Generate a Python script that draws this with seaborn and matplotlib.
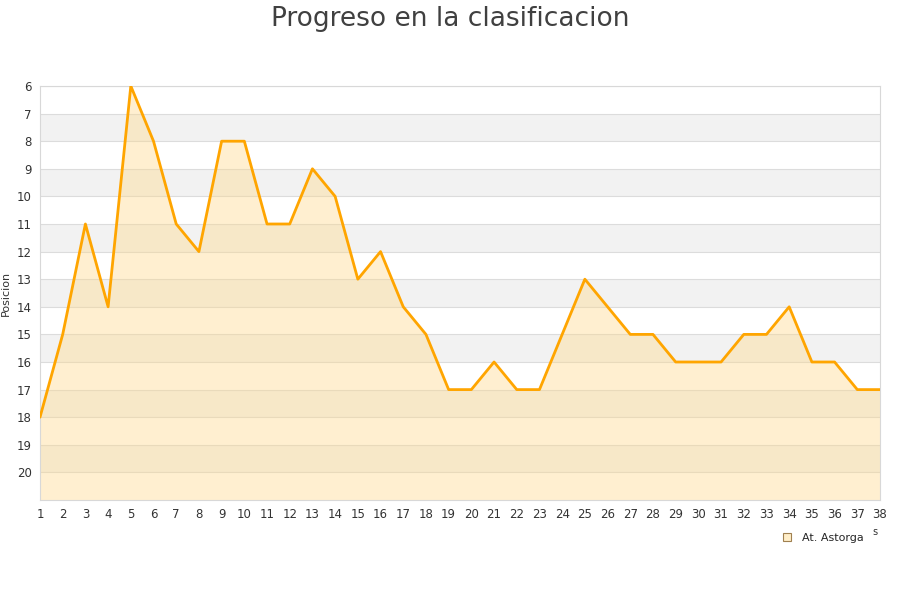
import matplotlib
matplotlib.use('Agg')
import matplotlib.pyplot as plt
import seaborn as sns
import pandas as pd
from matplotlib.lines import Line2D

# data
jornadas = list(range(1, 39))
posicion = [18, 15, 11, 14, 6, 8, 11, 12, 8, 8, 11, 11, 9, 10, 13, 12, 14, 15, 17, 17,
            16, 17, 17, 15, 13, 14, 15, 15, 16, 16, 16, 15, 15, 14, 16, 16, 17, 17]
y_ticks = list(range(6, 21))
equipo = 'At. Astorga'

df = pd.DataFrame({'jornada': jornadas, 'posicion': posicion})

sns.set_style('white')
plt.rcParams['font.family'] = ['DejaVu Sans']

fig = plt.figure(figsize=(9, 6), dpi=100)
ax = fig.add_axes([40 / 900, 1 - 500 / 600, 840 / 900, 414 / 600])

# alternating bands
for k in range(6, 21):
    if k % 2 == 1:
        ax.axhspan(k, k + 1, color='#f2f2f2', zorder=0, lw=0)
    ax.axhline(k, color='#dcdcdc', lw=0.8, zorder=1)

ax.fill_between(df['jornada'], df['posicion'], 21, color='#ffd98a', alpha=0.4, lw=0, zorder=2)
sns.lineplot(data=df, x='jornada', y='posicion', color='#ffa500', lw=2, ax=ax, zorder=3)

ax.set_xlim(1, 38)
ax.set_ylim(21, 6)
ax.set_xticks(jornadas)
ax.set_yticks(y_ticks)
ax.tick_params(axis='both', labelsize=8.5, colors='#333333', length=0, pad=6)
ax.set_xlabel('')
ax.set_ylabel('Posicion', fontsize=8, color='#333333')
ax.yaxis.set_label_coords((11 - 40) / 840, (600 - 293 - 100) / 414)
for s in ax.spines.values():
    s.set_color('#d8d8d8')
    s.set_linewidth(0.8)

fig.suptitle('Progreso en la clasificacion', fontsize=19, color='#404040', y=0.99)

handle = Line2D([], [], marker='s', ls='', markersize=6, markerfacecolor='#ffeec8',
                markeredgecolor='#a08050', markeredgewidth=0.8)
fig.legend([handle], [equipo], loc='center', bbox_to_anchor=(820 / 900, 1 - 538 / 600),
           frameon=False, fontsize=8, handletextpad=0.4)
fig.text(875 / 900, 1 - 532 / 600, 's', fontsize=7, color='#333333', ha='center', va='center')

fig.savefig('out.png', dpi=100)
